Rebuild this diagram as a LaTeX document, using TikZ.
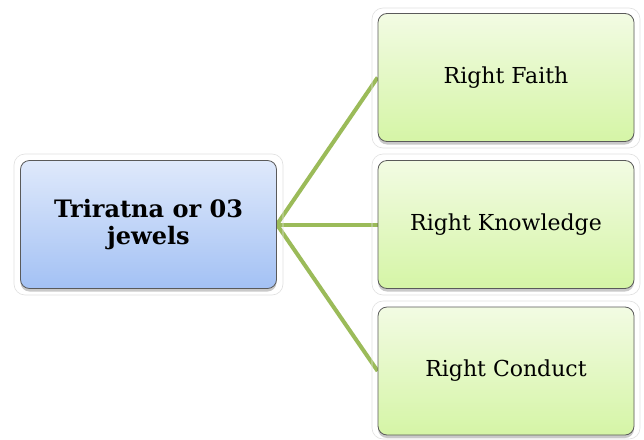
\documentclass[tikz,border=0pt]{standalone}
\usepackage{fontspec}
\setmainfont{DejaVu Serif}
\usetikzlibrary{shadows,backgrounds}
\definecolor{linkgreen}{HTML}{9BBB59}
\definecolor{bluetop}{HTML}{DFE9FB}
\definecolor{bluebot}{HTML}{A3C1F4}
\definecolor{greentop}{HTML}{F2FBE3}
\definecolor{greenbot}{HTML}{D5F5A6}
\definecolor{boxedge}{HTML}{5A5A5A}
\tikzset{
  basebox/.style={rounded corners=9pt, draw=boxedge, line width=0.8pt,
    drop shadow={shadow xshift=0pt, shadow yshift=-3pt, opacity=0.35, fill=black!60},
    minimum width=256pt, minimum height=128pt, align=center, inner sep=4pt},
  mainbox/.style={basebox, top color=bluetop, bottom color=bluebot, font=\fontsize{24}{27}\selectfont\bfseries},
  leafbox/.style={basebox, top color=greentop, bottom color=greenbot, font=\fontsize{22}{26}\selectfont},
  glow/.style={rounded corners=11pt, draw=black!12, line width=0.6pt},
  link/.style={draw=linkgreen, line width=4pt}
}
\begin{document}
\begin{tikzpicture}[x=1pt,y=-1pt]
\useasboundingbox (0,0) rectangle (644,439);
% outer glows
\draw[glow] (14,154) rectangle (283,295);
\draw[glow] (372,8) rectangle (640,148);
\draw[glow] (372,154) rectangle (640,295);
\draw[glow] (372,301) rectangle (640,439);
\node[mainbox] (root) at (148.5,224.5) {Triratna or 03\\jewels};
\node[leafbox] (faith) at (506,77.5) {Right Faith};
\node[leafbox] (know) at (506,224.5) {Right Knowledge};
\node[leafbox] (cond) at (506,371) {Right Conduct};
\begin{scope}[on background layer]
\fill[white] (0,0) rectangle (644,439);
\draw[link] (root.east) -- (faith.west);
\draw[link] (root.east) -- (know.west);
\draw[link] (root.east) -- (cond.west);
\end{scope}
\end{tikzpicture}
\end{document}
